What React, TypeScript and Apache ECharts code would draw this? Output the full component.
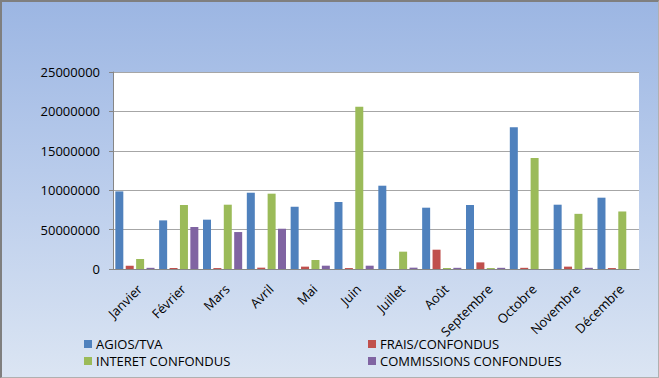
import React, { useEffect, useRef } from "react";
import * as echarts from "echarts";

const categories = ["Janvier", "Février", "Mars", "Avril", "Mai", "Juin", "Juillet", "Août", "Septembre", "Octobre", "Novembre", "Décembre"];
const agiosTva = [9850000, 6170000, 6260000, 9680000, 7900000, 8500000, 10570000, 7780000, 8120000, 18000000, 8160000, 9050000];
const fraisConfondus = [420000, 130000, 120000, 170000, 300000, 120000, 0, 2450000, 840000, 150000, 300000, 120000];
const interetConfondus = [1270000, 8120000, 8160000, 9560000, 1140000, 20600000, 2200000, 130000, 120000, 14100000, 7000000, 7300000];
const commissionsConfondues = [150000, 5330000, 4690000, 5110000, 420000, 420000, 170000, 150000, 150000, 0, 150000, 0];
const yTickLabels = ["0", "50000000", "10000000", "15000000", "20000000", "25000000"];

const FONT = "'Open Sans', sans-serif";

export default function App() {
  const ref = useRef<HTMLDivElement>(null);
  useEffect(() => {
    if (!ref.current) return;
    const chart = echarts.init(ref.current, undefined, { renderer: "svg" });
    const mk = (name: string, data: number[], color: string) => ({
      name,
      type: "bar",
      data,
      barWidth: 8,
      barGap: "30%",
      itemStyle: { color },
    });
    const legendText = { fontSize: 13, color: "#000", fontFamily: FONT, lineHeight: 14, padding: [0, 0, 0, -1] };
    chart.setOption({
      animation: false,
      textStyle: { fontFamily: FONT },
      grid: { left: 113, right: 20, top: 72, bottom: 109, show: true, backgroundColor: "#ffffff", borderWidth: 0 },
      legend: [
        {
          data: ["AGIOS/TVA", "INTERET CONFONDUS"],
          orient: "vertical",
          left: 79,
          top: 332,
          itemWidth: 8,
          itemHeight: 8,
          itemGap: 3,
          icon: "rect",
          textStyle: legendText,
        },
        {
          data: ["FRAIS/CONFONDUS", "COMMISSIONS CONFONDUES"],
          orient: "vertical",
          left: 363,
          top: 332,
          itemWidth: 8,
          itemHeight: 8,
          itemGap: 3,
          icon: "rect",
          textStyle: legendText,
        },
      ],
      xAxis: {
        type: "category",
        data: categories,
        axisLine: { lineStyle: { color: "#868686", width: 1 } },
        axisTick: { show: false },
        axisLabel: {
          rotate: 45,
          interval: 0,
          fontSize: 13,
          color: "#000",
          fontFamily: FONT,
          margin: 13,
          verticalAlign: "top",
        },
      },
      yAxis: {
        type: "value",
        min: 0,
        max: 25000000,
        interval: 5000000,
        axisLine: { show: true, lineStyle: { color: "#868686" } },
        axisTick: { show: true, length: 4, lineStyle: { color: "#868686" } },
        splitLine: { lineStyle: { color: "#a6a6a6", width: 1 } },
        axisLabel: {
          fontSize: 13,
          color: "#000",
          fontFamily: FONT,
          margin: 13,
          formatter: (v: number) => yTickLabels[Math.round(v / 5000000)] ?? String(v),
        },
      },
      series: [
        mk("AGIOS/TVA", agiosTva, "#4f81bd"),
        mk("FRAIS/CONFONDUS", fraisConfondus, "#c0504d"),
        mk("INTERET CONFONDUS", interetConfondus, "#9bbb59"),
        mk("COMMISSIONS CONFONDUES", commissionsConfondues, "#8064a2"),
      ],
    });
    return () => chart.dispose();
  }, []);
  return (
    <div
      style={{
        position: "fixed",
        left: 0,
        top: 0,
        width: 659,
        height: 378,
        boxSizing: "border-box",
        borderTop: "2px solid #7f7f7f",
        borderLeft: "2px solid #7f7f7f",
        borderRight: "1px solid #b0b0b0",
        borderBottom: "1px solid #b0b0b0",
        background: "linear-gradient(to bottom, #9cb6e3 0%, #b8cbeb 45%, #dbe5f3 100%)",
      }}
    >
      <div ref={ref} style={{ position: "absolute", left: -2, top: -2, width: 659, height: 378 }} />
    </div>
  );
}
